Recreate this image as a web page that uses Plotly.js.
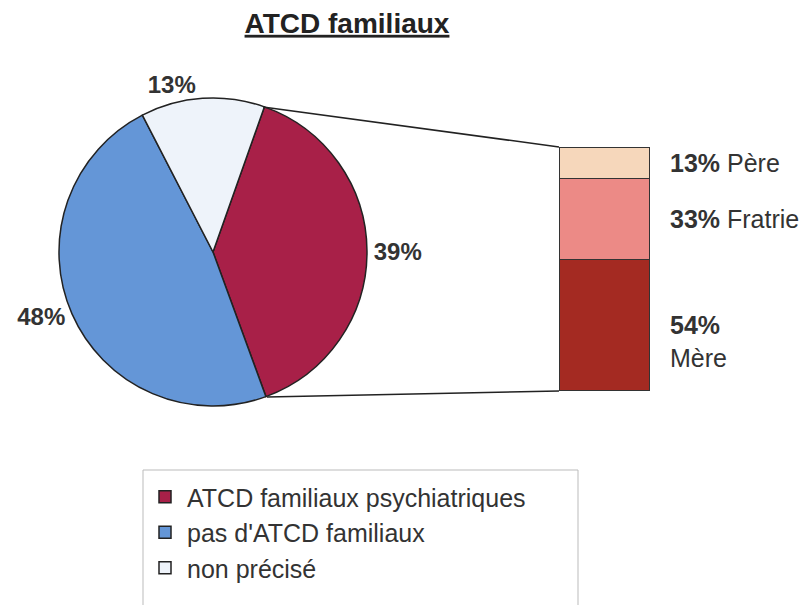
<!DOCTYPE html>
<html><head><meta charset="utf-8">
<script src="https://cdn.plot.ly/plotly-3.0.1.min.js"></script>
<style>html,body{margin:0;padding:0;background:#fff}</style>
</head><body><div id="chart" style="width:810px;height:605px"></div>
<script>
const pieLabels = ["ATCD familiaux psychiatriques", "pas d'ATCD familiaux", "non précisé"];
const pieValues = [39, 48, 13];
const pieColors = ["#A82048", "#6496D7", "#EEF3FA"];

const barCategory = ["ATCD"];
const barLabels = ["Mère", "Fratrie", "Père"];
const barValues = [54, 33, 13];
const barColors = ["#A42A22", "#EC8A86", "#F6D7BB"];

const titleText = "ATCD familiaux";
const FONT = "Arial, 'Liberation Sans', sans-serif";

const W = 810, H = 605;
const px = v => v / W;
const py = v => 1 - v / H;

const traces = [{
  type: 'pie',
  labels: pieLabels,
  values: pieValues,
  sort: false,
  direction: 'clockwise',
  rotation: 19.5,
  marker: {colors: pieColors, line: {color: '#222', width: 1.5}},
  texttemplate: '%{value}%',
  textposition: 'outside',
  textfont: {family: FONT, size: 24, color: '#333', weight: 'bold'},
  domain: {x: [px(59), px(367)], y: [py(406), py(98)]},
  hoverinfo: 'label+percent'
}];

let cum = 0;
const barMids = [];
barValues.forEach((v, i) => {
  traces.push({
    type: 'bar',
    x: barCategory,
    y: [v],
    name: barLabels[i],
    marker: {color: barColors[i], line: {color: '#333', width: 1.2}},
    xaxis: 'x2', yaxis: 'y2',
    showlegend: false,
    hoverinfo: 'name+y'
  });
  barMids.push(cum + v / 2);
  cum += v;
});

const annotations = barLabels.map((lab, i) => ({
  xref: 'paper', yref: 'y2',
  x: px(668), y: barMids[i],
  xanchor: 'left', yanchor: 'middle',
  showarrow: false,
  align: 'left',
  text: lab === 'Mère' ? '<b>' + barValues[i] + '%</b><br>' + lab : '<b>' + barValues[i] + '%</b> ' + lab,
  yshift: lab === 'Mère' ? -16 : 0,
  font: {family: FONT, size: 25, color: '#333'}
}));

const layout = {
  width: W, height: H,
  margin: {l: 0, r: 0, t: 0, b: 0},
  paper_bgcolor: '#fff', plot_bgcolor: 'rgba(0,0,0,0)',
  font: {family: FONT, color: '#333'},
  title: {
    text: '<span style="text-decoration:underline">' + titleText + '</span>',
    x: px(347), xanchor: 'center', xref: 'paper',
    y: py(23), yanchor: 'middle', yref: 'container',
    font: {family: FONT, size: 28, color: '#222', weight: 'bold'}
  },
  barmode: 'stack',
  bargap: 0,
  xaxis2: {domain: [px(559), px(650)], anchor: 'y2', visible: false, fixedrange: true},
  yaxis2: {domain: [py(391), py(147)], anchor: 'x2', range: [0, 100], visible: false, fixedrange: true},
  legend: {
    x: px(143), y: py(474), xanchor: 'left', yanchor: 'top',
    bgcolor: 'rgba(0,0,0,0)', borderwidth: 0,
    font: {family: FONT, size: 25, color: '#333'},
    itemwidth: 34,
    traceorder: 'normal'
  },
  showlegend: true,
  annotations: annotations,
  shapes: [
    {type: 'rect', xref: 'paper', yref: 'paper', x0: px(143), y0: py(470), x1: px(578), y1: py(612), line: {color: '#bbb', width: 1}, fillcolor: 'rgba(0,0,0,0)', layer: 'below'},
    {type: 'line', xref: 'paper', yref: 'paper', x0: px(263), y0: py(107), x1: px(559), y1: py(147), line: {color: '#222', width: 1.5}},
    {type: 'line', xref: 'paper', yref: 'paper', x0: px(267), y0: py(397), x1: px(559), y1: py(391), line: {color: '#222', width: 1.5}}
  ]
};

Plotly.newPlot('chart', traces, layout, {displayModeBar: false, staticPlot: true});
</script>
</body></html>
